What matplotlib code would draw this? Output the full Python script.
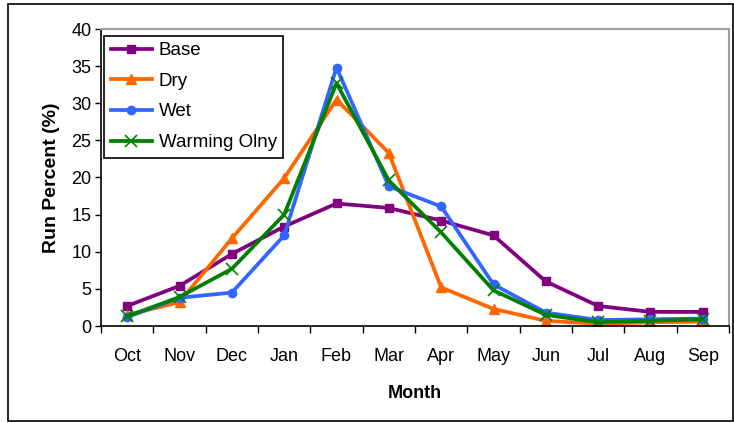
import numpy as np
import matplotlib.pyplot as plt
from matplotlib.patches import Rectangle
from matplotlib.ticker import FixedLocator

plt.rcParams['font.family'] = ['Liberation Sans', 'DejaVu Sans']

months = ['Oct', 'Nov', 'Dec', 'Jan', 'Feb', 'Mar', 'Apr', 'May', 'Jun', 'Jul', 'Aug', 'Sep']
base = [2.7, 5.4, 9.7, 13.4, 16.5, 15.9, 14.2, 12.2, 6.0, 2.7, 1.9, 1.9]
dry = [1.5, 3.2, 11.8, 19.9, 30.5, 23.3, 5.2, 2.3, 0.7, 0.3, 0.5, 0.6]
wet = [1.2, 3.8, 4.5, 12.2, 34.8, 18.8, 16.1, 5.6, 1.8, 0.8, 0.9, 1.0]
warming = [1.3, 3.9, 7.7, 15.0, 32.7, 19.6, 12.6, 4.8, 1.5, 0.5, 0.7, 0.9]

fig = plt.figure(figsize=(7.34, 4.23), dpi=100)
ax = fig.add_axes([101 / 734, 97 / 423, 628 / 734, 297 / 423])

x = np.arange(len(months))
ax.plot(x, base, color='#800080', lw=2.7, marker='s', ms=6, label='Base')
ax.plot(x, dry, color='#FF6600', lw=2.7, marker='^', ms=7, label='Dry')
ax.plot(x, wet, color='#3366FF', lw=2.7, marker='o', ms=6, label='Wet')
ax.plot(x, warming, color='#008000', lw=2.7, marker='x', ms=8, mew=1.2, label='Warming Olny')

ax.set_xlim(-0.5, len(months) - 0.5)
ax.set_ylim(0, 40)
ax.set_yticks(np.arange(0, 41, 5))
ax.set_xticks(x)
ax.set_xticklabels(months)
ax.xaxis.set_minor_locator(FixedLocator(np.arange(-0.5, len(months), 1.0)))
ax.tick_params(axis='x', which='major', length=0, pad=16, labelsize=13)
ax.tick_params(axis='x', which='minor', length=5, width=1, direction='out')
ax.tick_params(axis='y', length=4, width=1, labelsize=13, pad=3)

for side in ['top', 'right']:
    ax.spines[side].set_color('#a0a0a0')
    ax.spines[side].set_linewidth(1.5)
for side in ['left', 'bottom']:
    ax.spines[side].set_color('black')
    ax.spines[side].set_linewidth(1.2)

ax.set_xlabel('Month', fontsize=13, fontweight='bold', labelpad=14)
ax.set_ylabel('Run Percent (%)', fontsize=14, fontweight='bold', labelpad=8)

leg = ax.legend(loc='upper left', bbox_to_anchor=(0.005, 0.978), fontsize=13.5,
                frameon=True, fancybox=False, edgecolor='black', framealpha=1,
                handlelength=2.2, borderpad=0.35, labelspacing=0.72, handletextpad=0.35,
                borderaxespad=0)
leg.get_frame().set_linewidth(1.2)

fig.patches.append(Rectangle((8 / 734, 2 / 423), 725 / 734, 417 / 423,
                             transform=fig.transFigure, fill=False,
                             edgecolor='black', lw=1.2))

fig.savefig('out.png', dpi=100)
